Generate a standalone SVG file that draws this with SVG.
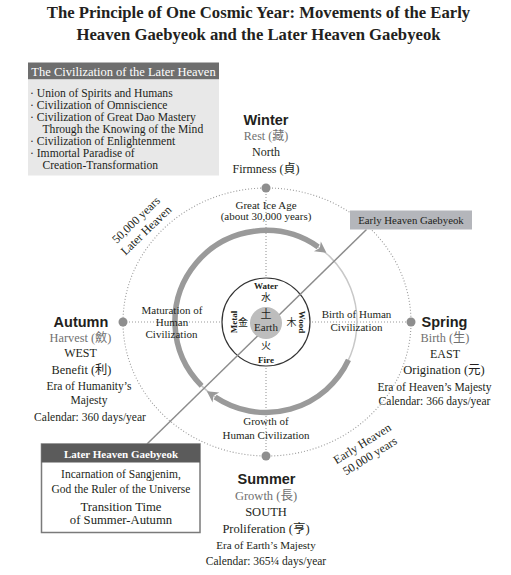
<svg xmlns="http://www.w3.org/2000/svg" width="511" height="575" viewBox="0 0 511 575">
<style>
text{font-family:"Liberation Serif","Noto Sans CJK TC",serif;fill:#231f20;}
.title{font-size:16.7px;font-weight:bold;text-anchor:middle;}
.season{font-family:"Liberation Sans",Arial,sans-serif;font-weight:bold;font-size:14.5px;text-anchor:middle;}
.l{font-size:12px;text-anchor:middle;}
.g{fill:#707070;}
.s{font-size:11px;text-anchor:middle;}
.m{font-size:11.5px;text-anchor:middle;}
.leg{font-size:11.6px;}
.el{font-size:9px;font-weight:bold;text-anchor:middle;}
.cjk{font-size:10px;text-anchor:middle;}
.dotline{stroke:#9a9a9a;stroke-width:1.1;stroke-dasharray:1 2;fill:none;}
.dot{fill:#8e8e8e;}
.thick{stroke:#9a9a9a;stroke-width:5.5;fill:none;}
</style>
<defs>
<marker id="ah" markerUnits="userSpaceOnUse" markerWidth="16" markerHeight="16" refX="1" refY="7" orient="auto" overflow="visible">
<path d="M0,1 L11,7 L0,13 L3,7 Z" fill="#9a9a9a"/>
</marker>
</defs>
<rect width="511" height="575" fill="#ffffff"/>

<g id="title">
<text class="title" x="258.5" y="18">The Principle of One Cosmic Year: Movements of the Early</text>
<text class="title" x="258.5" y="40">Heaven Gaebyeok and the Later Heaven Gaebyeok</text>
</g>

<g id="legend">
<rect x="28" y="62.5" width="191" height="17" fill="#6e6e6e"/>
<rect x="28" y="79.5" width="191" height="96" fill="#e8e8e8"/>
<text x="123.5" y="75.5" style="font-size:12.5px;text-anchor:middle;fill:#ffffff">The Civilization of the Later Heaven</text>
<text class="leg" x="30" y="96.5">· Union of Spirits and Humans</text>
<text class="leg" x="30" y="108.5">· Civilization of Omniscience</text>
<text class="leg" x="30" y="120.5">· Civilization of Great Dao Mastery</text>
<text class="leg" x="42.5" y="132.5">Through the Knowing of the Mind</text>
<text class="leg" x="30" y="144.5">· Civilization of Enlightenment</text>
<text class="leg" x="30" y="156.5">· Immortal Paradise of</text>
<text class="leg" x="42.5" y="168.5">Creation-Transformation</text>
</g>

<g id="connectors">
<ellipse class="dotline" cx="267" cy="322" rx="144" ry="134"/>
<line class="dotline" x1="266" y1="188" x2="266" y2="456"/>
<line class="dotline" x1="123" y1="322" x2="411" y2="322"/>
<circle cx="266" cy="321.5" r="91" fill="none" stroke="#c8c8c8" stroke-width="1.5"/>
<path class="thick" d="M201.65,385.85 A91,91 0 0 1 318.2,246.95" marker-end="url(#ah)"/>
<path class="thick" d="M348.47,359.96 A91,91 0 0 1 215.11,396.94" marker-end="url(#ah)"/>
</g>

<g id="inner">
<circle cx="266" cy="322" r="44" fill="#ffffff" stroke="#333333" stroke-width="1.2"/>
</g>

<g id="diagonal">
<line x1="366.5" y1="229.5" x2="147" y2="444" stroke="#8c8c8c" stroke-width="1.5"/>
</g>

<g id="earth">
<circle cx="266" cy="323" r="16" fill="#bdbdbd"/>
<text x="266" y="318" style="font-size:11px;text-anchor:middle">土</text>
<text x="266" y="331" style="font-size:11px;text-anchor:middle">Earth</text>
<text class="el" x="266" y="289">Water</text>
<text class="cjk" x="266" y="301">水</text>
<text class="cjk" x="266" y="349">火</text>
<text class="el" x="266" y="362.5">Fire</text>
<text class="cjk" x="243" y="326">金</text>
<text class="cjk" x="291.5" y="326">木</text>
<text class="el" transform="translate(236.5,322) rotate(-90)">Metal</text>
<text class="el" transform="translate(298.5,322) rotate(90)">Wood</text>
</g>

<g id="winter">
<circle class="dot" cx="266" cy="188" r="4.5"/>
<text class="season" x="266" y="125">Winter</text>
<text class="l g" x="266" y="140">Rest (藏)</text>
<text class="l" x="266" y="156">North</text>
<text class="l" x="266" y="172.5">Firmness (貞)</text>
<text class="s" x="266" y="208.5">Great Ice Age</text>
<text class="s" x="266" y="220">(about 30,000 years)</text>
</g>

<g id="autumn">
<circle class="dot" cx="123" cy="322" r="4.5"/>
<text class="season" x="81" y="327">Autumn</text>
<text class="l g" x="80.5" y="342" style="font-size:12.3px">Harvest (斂)</text>
<text class="l" x="80.5" y="357">WEST</text>
<text class="l" x="81.5" y="373.5" style="font-size:12.3px">Benefit (利)</text>
<text class="m" x="89" y="390">Era of Humanity’s</text>
<text class="m" x="89" y="404">Majesty</text>
<text class="m" x="90" y="421">Calendar: 360 days/year</text>
<text class="s" x="172" y="313.5">Maturation of</text>
<text class="s" x="172" y="326">Human</text>
<text class="s" x="171.5" y="337.5">Civilization</text>
</g>

<g id="spring">
<circle class="dot" cx="411" cy="322" r="4.5"/>
<text class="season" x="444.5" y="327">Spring</text>
<text class="l g" x="445" y="342" style="font-size:12.3px">Birth (生)</text>
<text class="l" x="445" y="357.5">EAST</text>
<text class="l" x="444" y="374" style="font-size:12.5px">Origination (元)</text>
<text class="m" x="434.5" y="390.5">Era of Heaven’s Majesty</text>
<text class="m" x="434.5" y="405">Calendar: 366 days/year</text>
<text class="s" x="356.5" y="318">Birth of Human</text>
<text class="s" x="356.5" y="331">Civilization</text>
</g>

<g id="summer">
<circle class="dot" cx="266" cy="456" r="4.5"/>
<text class="s" x="266" y="425">Growth of</text>
<text class="s" x="266" y="438.5">Human Civilization</text>
<text class="season" x="266.5" y="484">Summer</text>
<text class="l g" x="266" y="500" style="font-size:12.5px">Growth (長)</text>
<text class="l" x="266" y="516" style="font-size:12.5px">SOUTH</text>
<text class="l" x="266" y="532.5" style="font-size:12.5px">Proliferation (亨)</text>
<text class="s" x="266" y="548.5">Era of Earth’s Majesty</text>
<text class="m" x="266" y="564.5">Calendar: 365¼ days/year</text>
</g>

<g id="later-heaven-years">
<g transform="translate(141.2,225.3) rotate(-44)">
<text x="0" y="-3.5" style="font-size:12px;text-anchor:middle">50,000 years</text>
<text x="0" y="11" style="font-size:12px;text-anchor:middle">Later Heaven</text>
</g>
</g>

<g id="early-heaven-years">
<g transform="translate(366.2,450) rotate(-32)">
<text x="0" y="-3.5" style="font-size:12px;text-anchor:middle">Early Heaven</text>
<text x="0" y="11" style="font-size:12px;text-anchor:middle">50,000 years</text>
</g>
</g>

<g id="early-heaven-gaebyeok">
<rect x="350" y="210.5" width="122" height="19" fill="#b4b6bb"/>
<text x="411" y="224" style="font-size:10.8px;text-anchor:middle">Early Heaven Gaebyeok</text>
</g>

<g id="later-heaven-gaebyeok">
<rect x="41.5" y="444" width="158.5" height="88.5" fill="#ffffff" stroke="#7a7a7a" stroke-width="1.5"/>
<rect x="41.5" y="444" width="158.5" height="18.5" fill="#5b5b5b"/>
<text x="121" y="457.5" style="font-size:11px;font-weight:bold;text-anchor:middle;fill:#ffffff">Later Heaven Gaebyeok</text>
<text x="121" y="478" style="font-size:11.5px;text-anchor:middle">Incarnation of Sangjenim,</text>
<text x="121" y="493" style="font-size:11.5px;text-anchor:middle">God the Ruler of the Universe</text>
<text x="121" y="510.5" style="font-size:12.7px;text-anchor:middle">Transition Time</text>
<text x="121" y="524" style="font-size:12.7px;text-anchor:middle">of Summer-Autumn</text>
</g>
</svg>
